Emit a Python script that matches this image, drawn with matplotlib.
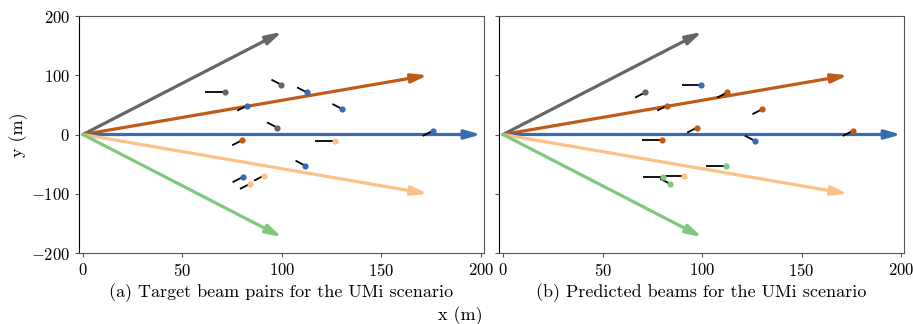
import matplotlib
matplotlib.use("Agg")
import matplotlib.pyplot as plt
import numpy as np

plt.rcParams['font.family'] = 'serif'
plt.rcParams['font.serif'] = ['cmr10']
plt.rcParams['mathtext.fontset'] = 'cm'
plt.rcParams['axes.formatter.use_mathtext'] = True
plt.rcParams['axes.unicode_minus'] = True

# BS beam codebook: steering angle (deg) and colour of each beam
beam_angles = [60, 30, 0, -30, -60]
beam_colors = ['#666666', '#bf5b17', '#386cb0', '#fdc086', '#7fc97f']
beam_len = 200

# user positions (m)
ue_x = [71.3, 99.7, 112.6, 82.5, 130.3, 97.5, 175.7, 80.0, 126.5, 111.8, 80.2, 91.0, 83.9]
ue_y = [70.9, 83.9, 70.9, 48.9, 42.9, 11.8, 6.2, -9.5, -10.6, -52.8, -71.9, -69.2, -83.2]

# target pairs: BS beam index and UE beam angle (deg)
target_bs = [0, 0, 2, 2, 2, 0, 2, 1, 3, 2, 2, 3, 3]
target_ue = [180, 120, 120, 240, 120, 120, 240, 240, 180, 120, 240, 240, 240]

# predicted pairs
pred_bs = [0, 2, 1, 1, 1, 1, 1, 1, 2, 4, 4, 3, 4]
pred_ue = [240, 180, 240, 240, 240, 240, 240, 180, 120, 180, 180, 180, 120]

ue_len = 10

captions = ['(a) Target beam pairs for the UMi scenario',
            '(b) Predicted beams for the UMi scenario']


def draw_panel(ax, bs_idx, ue_ang, caption):
    # BS beams as arrows from the origin
    for ang, c in zip(beam_angles, beam_colors):
        t = np.deg2rad(ang)
        ax.annotate('', xy=(beam_len*np.cos(t), beam_len*np.sin(t)), xytext=(0, 0),
                    arrowprops=dict(arrowstyle='-|>,head_length=0.6,head_width=0.17',
                                    color=c, lw=2.3, mutation_scale=15.6,
                                    shrinkA=0, shrinkB=0), zorder=2)
    # UE beams as short black sticks, users as coloured dots
    for x, y, b, a in zip(ue_x, ue_y, bs_idx, ue_ang):
        t = np.deg2rad(a)
        ax.plot([x, x + ue_len*np.cos(t)], [y, y + ue_len*np.sin(t)],
                color='black', lw=1.3, zorder=3, solid_capstyle='butt')
        ax.plot(x, y, 'o', color=beam_colors[b], ms=4.5, mec='none', zorder=4)

    ax.set_xlim(-2, 201.5)
    ax.set_ylim(-200, 200)
    ax.set_xticks([0, 50, 100, 150, 200])
    ax.set_yticks([-200, -100, 0, 100, 200])
    ax.set_xlabel(caption, fontsize=13, labelpad=3)
    ax.tick_params(labelsize=12, length=3, width=0.8, color='#555555')
    for s in ['top', 'right', 'bottom']:
        ax.spines[s].set_color('#555555')
    ax.spines['left'].set_color('black')


fig = plt.figure(figsize=(9.13, 3.24), dpi=100)
ax1 = fig.add_axes([0.0865, 0.2191, 0.4436, 0.7315])
ax2 = fig.add_axes([0.5466, 0.2191, 0.4436, 0.7315])

draw_panel(ax1, target_bs, target_ue, captions[0])
draw_panel(ax2, pred_bs, pred_ue, captions[1])
ax2.tick_params(labelleft=False)

ax1.set_ylabel('y (m)', fontsize=13, labelpad=2)
fig.text(0.504, 0.025, 'x (m)', fontsize=13, ha='center', va='center')

fig.savefig('out.png', dpi=100)
